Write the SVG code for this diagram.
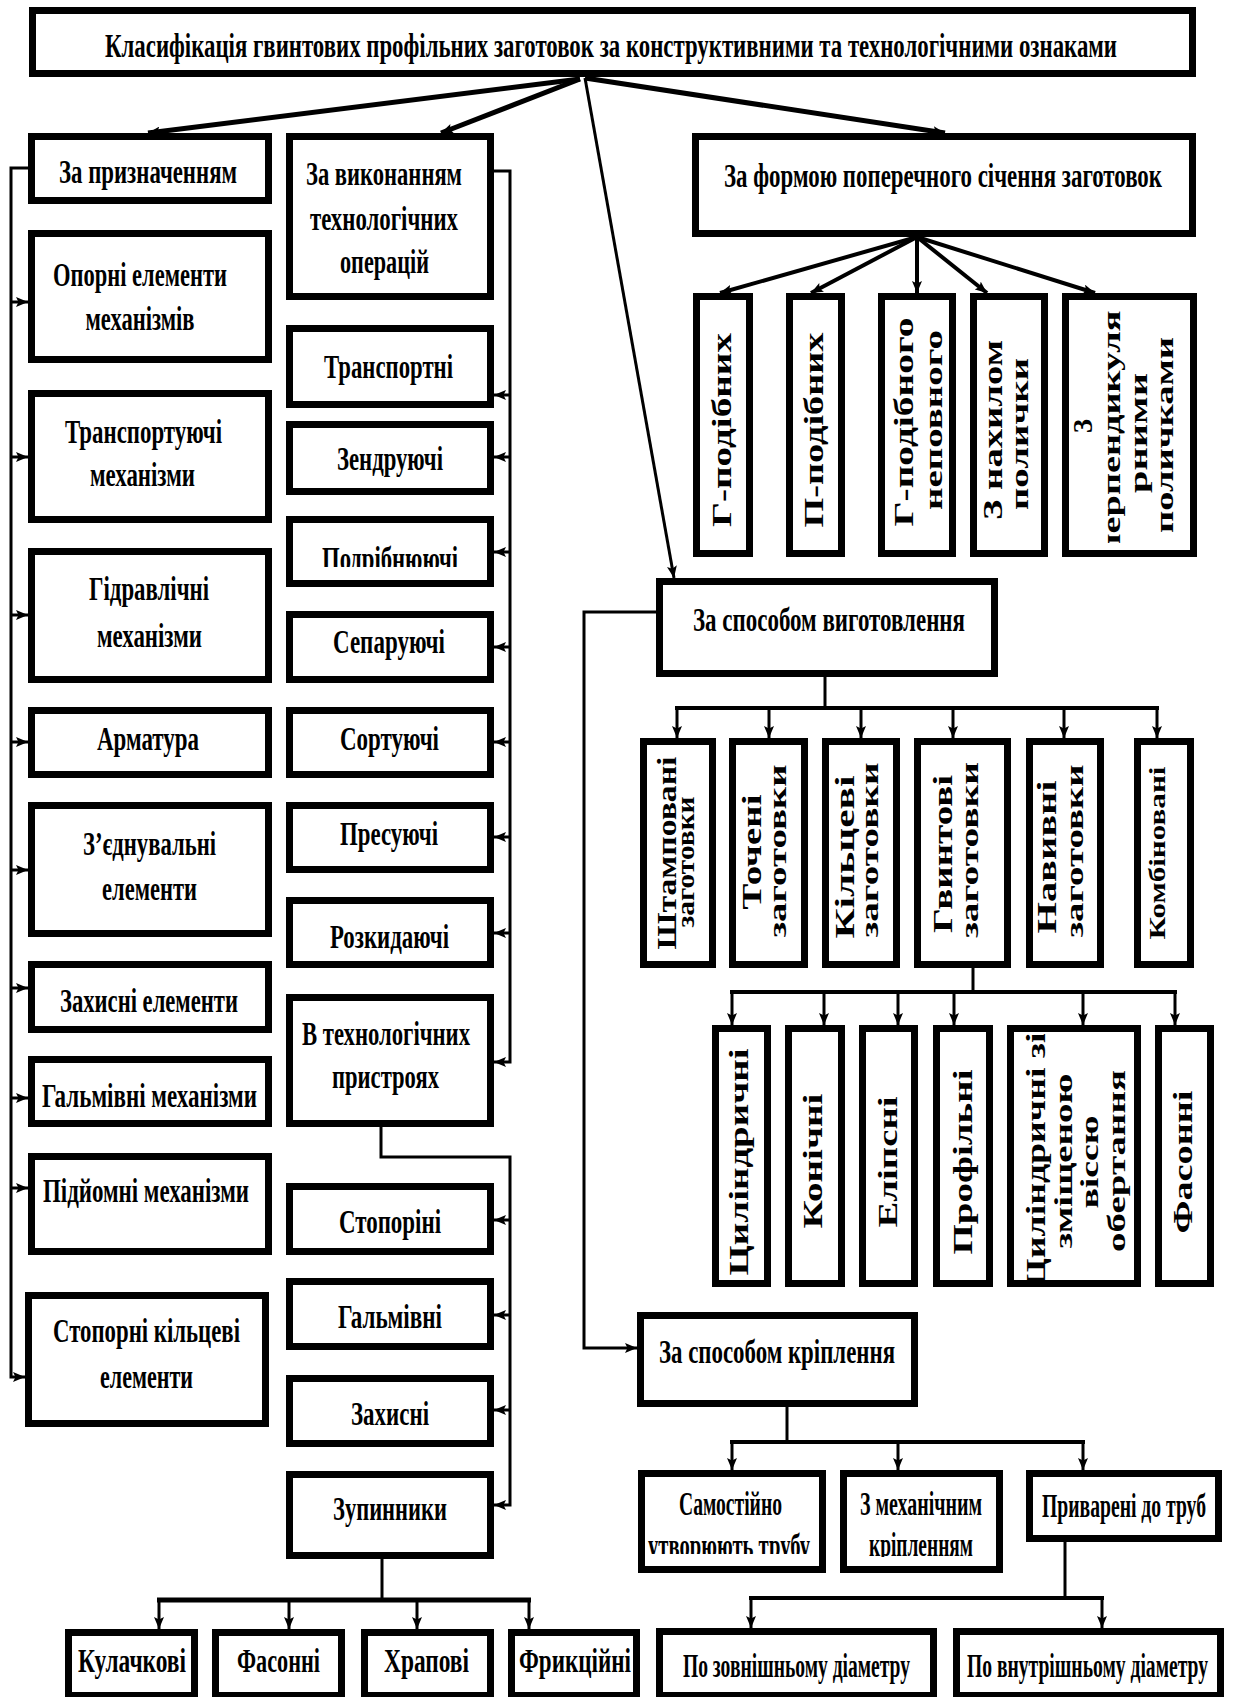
<svg xmlns="http://www.w3.org/2000/svg" width="1235" height="1697" viewBox="0 0 1235 1697">
<style>
.box{fill:#fff;stroke:#000;stroke-width:7}
.h{font-family:"Liberation Serif","Times New Roman",serif;font-weight:700;font-size:33px;text-anchor:middle;fill:#000}
.v{font-family:"Liberation Serif","Times New Roman",serif;font-weight:700;font-size:27px;text-anchor:middle;fill:#000}
.v2{font-family:"Liberation Serif","Times New Roman",serif;font-weight:700;font-size:25px;text-anchor:middle;fill:#000}
.v3{font-family:"Liberation Serif","Times New Roman",serif;font-weight:700;font-size:23px;text-anchor:middle;fill:#000}
.c{fill:none;stroke:#000;stroke-width:3}
.ct{fill:none;stroke:#000;stroke-width:5}
.cb{fill:none;stroke:#000;stroke-width:4}
.a{marker-end:url(#ah)}
</style>
<defs>
<marker id="ah" viewBox="0 0 12 10" refX="12" refY="5" markerWidth="12" markerHeight="10" markerUnits="userSpaceOnUse" orient="auto"><path d="M0,0 L12,5 L0,10 L2.5,5 z" fill="#000"/></marker>
<clipPath id="cpPodr"><rect x="290" y="520" width="200" height="47"/></clipPath>
<clipPath id="cpSam"><rect x="640" y="1475" width="184" height="79"/></clipPath>
<clipPath id="cpKrip"><rect x="842" y="1475" width="158" height="82"/></clipPath>
<clipPath id="cpPerp"><rect x="1066" y="300" width="126" height="243"/></clipPath>
<clipPath id="cpCyl"><rect x="1000" y="1034" width="60" height="270"/></clipPath>
</defs>

<g id="title"><rect class="box" x="32.5" y="10.5" width="1160" height="63"/>
<text class="h" x="611" y="57" textLength="1012" lengthAdjust="spacingAndGlyphs">Класифікація гвинтових профільних заготовок за конструктивними та технологічними ознаками</text></g>

<g id="n-pryznach"><rect class="box" x="31.5" y="136.5" width="237" height="64"/>
<text class="h" x="148" y="183" textLength="178" lengthAdjust="spacingAndGlyphs">За призначенням</text></g>
<g id="n-oporni"><rect class="box" x="31.5" y="233.5" width="237" height="126"/>
<text class="h" x="140" y="286" textLength="174" lengthAdjust="spacingAndGlyphs">Опорні елементи</text>
<text class="h" x="140" y="330" textLength="109" lengthAdjust="spacingAndGlyphs">механізмів</text></g>
<g id="n-transportuyuchi"><rect class="box" x="31.5" y="393.5" width="237" height="126"/>
<text class="h" x="143.5" y="443" textLength="157" lengthAdjust="spacingAndGlyphs">Транспортуючі</text>
<text class="h" x="142.5" y="486" textLength="105" lengthAdjust="spacingAndGlyphs">механізми</text></g>
<g id="n-hidravl"><rect class="box" x="31.5" y="551.5" width="237" height="128"/>
<text class="h" x="149" y="600" textLength="120" lengthAdjust="spacingAndGlyphs">Гідравлічні</text>
<text class="h" x="149.5" y="647" textLength="105" lengthAdjust="spacingAndGlyphs">механізми</text></g>
<g id="n-armatura"><rect class="box" x="31.5" y="710.5" width="237" height="64"/>
<text class="h" x="148" y="750" textLength="102" lengthAdjust="spacingAndGlyphs">Арматура</text></g>
<g id="n-zyednuv"><rect class="box" x="31.5" y="805.5" width="237" height="128"/>
<text class="h" x="149.5" y="855" textLength="133" lengthAdjust="spacingAndGlyphs">З’єднувальні</text>
<text class="h" x="149.5" y="900" textLength="95" lengthAdjust="spacingAndGlyphs">елементи</text></g>
<g id="n-zakhysni-el"><rect class="box" x="31.5" y="964.5" width="237" height="65"/>
<text class="h" x="149" y="1012" textLength="178" lengthAdjust="spacingAndGlyphs">Захисні елементи</text></g>
<g id="n-halm-mekh"><rect class="box" x="31.5" y="1059.5" width="237" height="64"/>
<text class="h" x="149.5" y="1107" textLength="215" lengthAdjust="spacingAndGlyphs">Гальмівні механізми</text></g>
<g id="n-pidyomni"><rect class="box" x="31.5" y="1156.5" width="237" height="95"/>
<text class="h" x="146" y="1202" textLength="206" lengthAdjust="spacingAndGlyphs">Підйомні механізми</text></g>
<g id="n-stoporni-kilts"><rect class="box" x="28.5" y="1295.5" width="237" height="128"/>
<text class="h" x="146.5" y="1342" textLength="187" lengthAdjust="spacingAndGlyphs">Стопорні кільцеві</text>
<text class="h" x="146.5" y="1388" textLength="93" lengthAdjust="spacingAndGlyphs">елементи</text></g>

<g id="n-vykonann"><rect class="box" x="289.5" y="136.5" width="201" height="160"/>
<text class="h" x="384" y="185" textLength="156" lengthAdjust="spacingAndGlyphs">За виконанням</text>
<text class="h" x="384" y="230" textLength="148" lengthAdjust="spacingAndGlyphs">технологічних</text>
<text class="h" x="384.5" y="273" textLength="89" lengthAdjust="spacingAndGlyphs">операцій</text></g>
<g id="n-transportni"><rect class="box" x="289.5" y="328.5" width="201" height="76"/>
<text class="h" x="388.5" y="378" textLength="129" lengthAdjust="spacingAndGlyphs">Транспортні</text></g>
<g id="n-zendr"><rect class="box" x="289.5" y="424.5" width="201" height="67"/>
<text class="h" x="390" y="470" textLength="106" lengthAdjust="spacingAndGlyphs">Зендруючі</text></g>
<g id="n-podrib"><rect class="box" x="289.5" y="519.5" width="201" height="64"/>
<g clip-path="url(#cpPodr)"><text class="h" x="390" y="570" textLength="136" lengthAdjust="spacingAndGlyphs">Подрібнюючі</text></g></g>
<g id="n-separ"><rect class="box" x="289.5" y="614.5" width="201" height="65"/>
<text class="h" x="389" y="653" textLength="112" lengthAdjust="spacingAndGlyphs">Сепаруючі</text></g>
<g id="n-sortuy"><rect class="box" x="289.5" y="710.5" width="201" height="64"/>
<text class="h" x="389.5" y="750" textLength="99" lengthAdjust="spacingAndGlyphs">Сортуючі</text></g>
<g id="n-presuy"><rect class="box" x="289.5" y="805.5" width="201" height="64"/>
<text class="h" x="389" y="845" textLength="98" lengthAdjust="spacingAndGlyphs">Пресуючі</text></g>
<g id="n-rozkyd"><rect class="box" x="289.5" y="900.5" width="201" height="64"/>
<text class="h" x="389.5" y="948" textLength="119" lengthAdjust="spacingAndGlyphs">Розкидаючі</text></g>
<g id="n-v-tekhn"><rect class="box" x="289.5" y="997.5" width="201" height="126"/>
<text class="h" x="386" y="1045" textLength="168" lengthAdjust="spacingAndGlyphs">В технологічних</text>
<text class="h" x="385.5" y="1088" textLength="107" lengthAdjust="spacingAndGlyphs">пристроях</text></g>
<g id="n-stoporini"><rect class="box" x="289.5" y="1186.5" width="201" height="65"/>
<text class="h" x="390" y="1233" textLength="102" lengthAdjust="spacingAndGlyphs">Стопоріні</text></g>
<g id="n-halmivni"><rect class="box" x="289.5" y="1281.5" width="201" height="65"/>
<text class="h" x="390" y="1328" textLength="104" lengthAdjust="spacingAndGlyphs">Гальмівні</text></g>
<g id="n-zakhysni"><rect class="box" x="289.5" y="1378.5" width="201" height="65"/>
<text class="h" x="390" y="1425" textLength="78" lengthAdjust="spacingAndGlyphs">Захисні</text></g>
<g id="n-zupynnyky"><rect class="box" x="289.5" y="1474.5" width="201" height="81"/>
<text class="h" x="390" y="1520" textLength="114" lengthAdjust="spacingAndGlyphs">Зупинники</text></g>

<g id="n-kulachkovi"><rect class="box" x="68.5" y="1632.5" width="126" height="63"/>
<text class="h" x="132" y="1672" textLength="108" lengthAdjust="spacingAndGlyphs">Кулачкові</text></g>
<g id="n-fasonni1"><rect class="box" x="215.5" y="1632.5" width="126" height="63"/>
<text class="h" x="278.5" y="1672" textLength="83" lengthAdjust="spacingAndGlyphs">Фасонні</text></g>
<g id="n-khrapovi"><rect class="box" x="364.5" y="1632.5" width="126" height="63"/>
<text class="h" x="426.5" y="1672" textLength="85" lengthAdjust="spacingAndGlyphs">Храпові</text></g>
<g id="n-fryktsiyni"><rect class="box" x="511.5" y="1632.5" width="125" height="63"/>
<text class="h" x="575" y="1672" textLength="112" lengthAdjust="spacingAndGlyphs">Фрикційні</text></g>

<g id="n-formoyu"><rect class="box" x="695.5" y="136.5" width="497" height="97"/>
<text class="h" x="943" y="187" textLength="438" lengthAdjust="spacingAndGlyphs">За формою поперечного січення заготовок</text></g>
<g id="n-g-podibnykh"><rect class="box" x="696.5" y="296.5" width="53" height="257"/>
<text class="v" transform="translate(731,430) rotate(-90)" textLength="194" lengthAdjust="spacingAndGlyphs">Г-подібних</text></g>
<g id="n-p-podibnykh"><rect class="box" x="789.5" y="296.5" width="52" height="257"/>
<text class="v" transform="translate(823,430) rotate(-90)" textLength="195" lengthAdjust="spacingAndGlyphs">П-подібних</text></g>
<g id="n-g-nepovnoho"><rect class="box" x="881.5" y="296.5" width="71" height="257"/>
<text class="v" transform="translate(913,422) rotate(-90)" textLength="209" lengthAdjust="spacingAndGlyphs">Г-подібного</text>
<text class="v2" transform="translate(942,420) rotate(-90)" textLength="180" lengthAdjust="spacingAndGlyphs">неповного</text></g>
<g id="n-nakhylom"><rect class="box" x="973.5" y="296.5" width="71" height="257"/>
<text class="v" transform="translate(1002,430) rotate(-90)" textLength="180" lengthAdjust="spacingAndGlyphs">З нахилом</text>
<text class="v2" transform="translate(1028,434) rotate(-90)" textLength="152" lengthAdjust="spacingAndGlyphs">полички</text></g>
<g id="n-perpend"><rect class="box" x="1065.5" y="296.5" width="128" height="257"/>
<text class="v" transform="translate(1092,426) rotate(-90)">З</text>
<g clip-path="url(#cpPerp)"><text class="v2" transform="translate(1120,433) rotate(-90)" textLength="245" lengthAdjust="spacingAndGlyphs">перпендикуля</text></g>
<text class="v2" transform="translate(1147,433) rotate(-90)" textLength="120" lengthAdjust="spacingAndGlyphs">рними</text>
<text class="v2" transform="translate(1173,435) rotate(-90)" textLength="196" lengthAdjust="spacingAndGlyphs">поличками</text></g>

<g id="n-vyhotovl"><rect class="box" x="659.5" y="581.5" width="335" height="92"/>
<text class="h" x="829" y="631" textLength="272" lengthAdjust="spacingAndGlyphs">За способом виготовлення</text></g>
<g id="n-shtampov"><rect class="box" x="643.5" y="741.5" width="69" height="223"/>
<text class="v" transform="translate(676,853) rotate(-90)" textLength="193" lengthAdjust="spacingAndGlyphs">Штамповані</text>
<text class="v2" transform="translate(694,862) rotate(-90)" textLength="131" lengthAdjust="spacingAndGlyphs">заготовки</text></g>
<g id="n-tocheni"><rect class="box" x="732.5" y="741.5" width="72" height="223"/>
<text class="v" transform="translate(761,852) rotate(-90)" textLength="115" lengthAdjust="spacingAndGlyphs">Точені</text>
<text class="v2" transform="translate(786,851) rotate(-90)" textLength="173" lengthAdjust="spacingAndGlyphs">заготовки</text></g>
<g id="n-kiltsevi"><rect class="box" x="825.5" y="741.5" width="71" height="223"/>
<text class="v" transform="translate(854,857) rotate(-90)" textLength="163" lengthAdjust="spacingAndGlyphs">Кільцеві</text>
<text class="v2" transform="translate(878,850) rotate(-90)" textLength="175" lengthAdjust="spacingAndGlyphs">заготовки</text></g>
<g id="n-hvyntovi"><rect class="box" x="917.5" y="741.5" width="90" height="223"/>
<text class="v" transform="translate(952,854) rotate(-90)" textLength="158" lengthAdjust="spacingAndGlyphs">Гвинтові</text>
<text class="v2" transform="translate(978,850) rotate(-90)" textLength="176" lengthAdjust="spacingAndGlyphs">заготовки</text></g>
<g id="n-navyvni"><rect class="box" x="1029.5" y="741.5" width="71" height="223"/>
<text class="v" transform="translate(1056,857) rotate(-90)" textLength="153" lengthAdjust="spacingAndGlyphs">Навивні</text>
<text class="v2" transform="translate(1083,851) rotate(-90)" textLength="173" lengthAdjust="spacingAndGlyphs">заготовки</text></g>
<g id="n-kombinovani"><rect class="box" x="1137.5" y="741.5" width="53" height="223"/>
<text class="v3" transform="translate(1165,853) rotate(-90)" textLength="173" lengthAdjust="spacingAndGlyphs">Комбіновані</text></g>

<g id="n-tsylindr"><rect class="box" x="715.5" y="1028.5" width="52" height="255"/>
<text class="v" transform="translate(748,1162) rotate(-90)" textLength="227" lengthAdjust="spacingAndGlyphs">Циліндричні</text></g>
<g id="n-konichni"><rect class="box" x="788.5" y="1028.5" width="53" height="255"/>
<text class="v" transform="translate(822,1161) rotate(-90)" textLength="135" lengthAdjust="spacingAndGlyphs">Конічні</text></g>
<g id="n-elipsni"><rect class="box" x="862.5" y="1028.5" width="52" height="255"/>
<text class="v" transform="translate(897,1162) rotate(-90)" textLength="131" lengthAdjust="spacingAndGlyphs">Еліпсні</text></g>
<g id="n-profilni"><rect class="box" x="936.5" y="1028.5" width="53" height="255"/>
<text class="v" transform="translate(972,1162) rotate(-90)" textLength="185" lengthAdjust="spacingAndGlyphs">Профільні</text></g>
<g id="n-tsyl-zmishch"><rect class="box" x="1010.5" y="1028.5" width="127" height="255"/>
<g clip-path="url(#cpCyl)"><text class="v" transform="translate(1045,1160) rotate(-90)" textLength="255" lengthAdjust="spacingAndGlyphs">Циліндричні зі</text></g>
<text class="v2" transform="translate(1072,1161) rotate(-90)" textLength="175" lengthAdjust="spacingAndGlyphs">зміщеною</text>
<text class="v2" transform="translate(1098,1162) rotate(-90)" textLength="93" lengthAdjust="spacingAndGlyphs">віссю</text>
<text class="v2" transform="translate(1125,1161) rotate(-90)" textLength="182" lengthAdjust="spacingAndGlyphs">обертання</text></g>
<g id="n-fasonni2"><rect class="box" x="1158.5" y="1028.5" width="52" height="255"/>
<text class="v" transform="translate(1192,1162) rotate(-90)" textLength="143" lengthAdjust="spacingAndGlyphs">Фасонні</text></g>

<g id="n-kriplennya"><rect class="box" x="640.5" y="1315.5" width="274" height="88"/>
<text class="h" x="777" y="1363" textLength="236" lengthAdjust="spacingAndGlyphs">За способом кріплення</text></g>
<g id="n-samostiyno"><rect class="box" x="641.5" y="1473.5" width="181" height="96"/>
<text class="h" x="730.5" y="1515" textLength="103" lengthAdjust="spacingAndGlyphs">Самостійно</text>
<g clip-path="url(#cpSam)"><text class="h" x="729" y="1557" textLength="162" lengthAdjust="spacingAndGlyphs">утворюють трубу</text></g></g>
<g id="n-mekhanichnym"><rect class="box" x="843.5" y="1473.5" width="156" height="96"/>
<text class="h" x="921" y="1515" textLength="122" lengthAdjust="spacingAndGlyphs">З механічним</text>
<g clip-path="url(#cpKrip)"><text class="h" x="921" y="1556" textLength="104" lengthAdjust="spacingAndGlyphs">кріпленням</text></g></g>
<g id="n-pryvareni"><rect class="box" x="1029.5" y="1473.5" width="189" height="65"/>
<text class="h" x="1124" y="1517" textLength="164" lengthAdjust="spacingAndGlyphs">Приварені до труб</text></g>
<g id="n-zovn"><rect class="box" x="659.5" y="1631.5" width="274" height="64"/>
<text class="h" x="796.5" y="1677" textLength="227" lengthAdjust="spacingAndGlyphs">По зовнішньому діаметру</text></g>
<g id="n-vnutr"><rect class="box" x="956.5" y="1631.5" width="264" height="64"/>
<text class="h" x="1087.5" y="1677" textLength="241" lengthAdjust="spacingAndGlyphs">По внутрішньому діаметру</text></g>

<g id="connectors">
<path class="ct a" d="M580,79 L148,133"/>
<path class="ct a" d="M580,79 L441,133"/>
<path class="ct a" d="M585,78 L945,133"/>
<path class="c a" d="M585,78 L674,578"/>

<path class="c a" d="M28,168 L11,168 L11,1377 L25,1377"/>
<path class="c a" d="M11,302 L28,302"/>
<path class="c a" d="M11,457 L28,457"/>
<path class="c a" d="M11,615 L28,615"/>
<path class="c a" d="M11,742 L28,742"/>
<path class="c a" d="M11,870 L28,870"/>
<path class="c a" d="M11,988 L28,988"/>
<path class="c a" d="M11,1098 L28,1098"/>
<path class="c a" d="M11,1188 L28,1188"/>

<path class="c a" d="M494,171 L510,171 L510,1062 L494,1062"/>
<path class="c a" d="M510,395 L494,395"/>
<path class="c a" d="M510,457 L494,457"/>
<path class="c a" d="M510,552 L494,552"/>
<path class="c a" d="M510,647 L494,647"/>
<path class="c a" d="M510,742 L494,742"/>
<path class="c a" d="M510,837 L494,837"/>
<path class="c a" d="M510,933 L494,933"/>
<path class="c a" d="M381,1127 L381,1157 L510,1157 L510,1505 L494,1505"/>
<path class="c a" d="M510,1220 L494,1220"/>
<path class="c a" d="M510,1315 L494,1315"/>
<path class="c a" d="M510,1410 L494,1410"/>

<path class="c" d="M382,1559 L382,1600"/>
<path class="ct" d="M157,1600 L531,1600"/>
<path class="c a" d="M159,1600 L159,1629"/>
<path class="c a" d="M289,1600 L289,1629"/>
<path class="c a" d="M417,1600 L417,1629"/>
<path class="c a" d="M529,1600 L529,1629"/>

<path class="cb a" d="M917,237 L720,293"/>
<path class="cb a" d="M917,237 L811,293"/>
<path class="cb a" d="M917,237 L917,293"/>
<path class="cb a" d="M917,237 L987,293"/>
<path class="cb a" d="M917,237 L1095,293"/>

<path class="c a" d="M656,612 L584,612 L584,1348 L637,1348"/>
<path class="c" d="M825,677 L825,708"/>
<path class="cb" d="M675,708 L1159,708"/>
<path class="c a" d="M677,708 L677,738"/>
<path class="c a" d="M769,708 L769,738"/>
<path class="c a" d="M861,708 L861,738"/>
<path class="c a" d="M953,708 L953,738"/>
<path class="c a" d="M1064,708 L1064,738"/>
<path class="c a" d="M1157,708 L1157,738"/>

<path class="c" d="M973,968 L973,992"/>
<path class="cb" d="M730,992 L1177,992"/>
<path class="c a" d="M732,992 L732,1025"/>
<path class="c a" d="M824,992 L824,1025"/>
<path class="c a" d="M898,992 L898,1025"/>
<path class="c a" d="M954,992 L954,1025"/>
<path class="c a" d="M1083,992 L1083,1025"/>
<path class="c a" d="M1175,992 L1175,1025"/>

<path class="c" d="M787,1407 L787,1442"/>
<path class="cb" d="M730,1442 L1085,1442"/>
<path class="c a" d="M732,1442 L732,1470"/>
<path class="c a" d="M898,1442 L898,1470"/>
<path class="c a" d="M1083,1442 L1083,1470"/>

<path class="c" d="M1065,1542 L1065,1598"/>
<path class="cb" d="M749,1598 L1104,1598"/>
<path class="c a" d="M751,1598 L751,1628"/>
<path class="c a" d="M1102,1598 L1102,1628"/>
</g>
</svg>
